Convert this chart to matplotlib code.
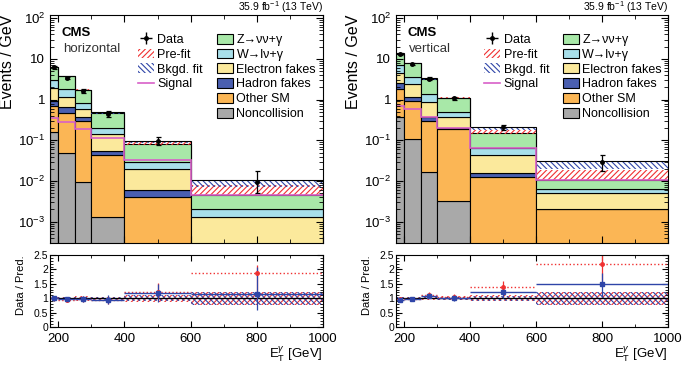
import numpy as np
import matplotlib
matplotlib.use("Agg")
import matplotlib.pyplot as plt
from matplotlib.patches import Patch
from matplotlib.lines import Line2D
from matplotlib.ticker import MultipleLocator, FixedLocator, NullFormatter

plt.rcParams['font.family'] = ['Liberation Sans', 'DejaVu Sans']
plt.rcParams['mathtext.fontset'] = 'custom'
plt.rcParams['mathtext.rm'] = 'Liberation Sans'
plt.rcParams['mathtext.it'] = 'Liberation Sans:italic'
plt.rcParams['hatch.linewidth'] = 0.8

# bin edges in photon ET (GeV)
edges = [175, 200, 250, 300, 400, 600, 1000]

# ---- horizontal (left) ----
h_noncoll = [0.163, 0.05, 0.0093, 0.0013, 0.0, 0.0]
h_other = [0.537, 0.41, 0.296, 0.0427, 0.004, 0.0001]
h_hadron = [0.25, 0.21, 0.075, 0.012, 0.002, 0.0001]
h_elec = [0.95, 0.52, 0.21, 0.084, 0.0135, 0.0011]
h_wgam = [1.15, 0.61, 0.25, 0.065, 0.0095, 0.0007]
h_zgam = [3.25, 1.9, 0.86, 0.265, 0.05, 0.0026]
h_signal = [0.35, 0.29, 0.186, 0.116, 0.033, 0.0046]
h_data = [6.2, 3.4, 1.6, 0.45, 0.095, 0.0096]
h_data_lo = [0.5, 0.27, 0.18, 0.07, 0.02, 0.0046]
h_data_hi = [0.5, 0.27, 0.18, 0.07, 0.023, 0.0085]
h_pre_lo = [6.0, 3.55, 1.62, 0.46, 0.077, 0.0046]
h_pre_hi = [6.6, 3.85, 1.78, 0.50, 0.090, 0.0080]
h_fit_lo = [6.0, 3.5, 1.6, 0.45, 0.085, 0.0070]
h_fit_hi = [6.5, 3.8, 1.75, 0.49, 0.098, 0.0106]
h_rfit = [1.0, 0.97, 0.97, 0.95, 1.17, 1.15]
h_rfit_lo = [0.08, 0.08, 0.11, 0.15, 0.3, 0.55]
h_rfit_hi = [0.08, 0.08, 0.11, 0.15, 0.33, 0.95]
h_rpre = [1.0, 0.93, 0.98, 0.93, 1.23, 1.86]
h_rpre_lo = [0.08, 0.07, 0.1, 0.14, 0.3, 0.9]
h_rpre_hi = [0.08, 0.07, 0.1, 0.14, 0.3, 0.3]
h_band_pre = [0.05, 0.05, 0.08, 0.05, 0.12, 0.22]
h_band_fit = [0.04, 0.04, 0.04, 0.05, 0.11, 0.22]

# ---- vertical (right) ----
v_noncoll = [0.37, 0.106, 0.017, 0.0032, 0.0, 0.0]
v_other = [1.43, 0.824, 0.288, 0.1828, 0.0123, 0.0020]
v_hadron = [0.7, 0.26, 0.075, 0.019, 0.0032, 0.0001]
v_elec = [1.9, 1.21, 0.48, 0.165, 0.0285, 0.0031]
v_wgam = [2.5, 1.1, 0.52, 0.14, 0.019, 0.0012]
v_zgam = [6.4, 4.3, 1.92, 0.59, 0.087, 0.0041]
v_signal = [0.71, 0.58, 0.37, 0.196, 0.064, 0.0104]
v_data = [12.9, 7.4, 3.3, 1.07, 0.21, 0.029]
v_data_lo = [0.72, 0.38, 0.26, 0.10, 0.032, 0.011]
v_data_hi = [0.72, 0.38, 0.26, 0.10, 0.032, 0.015]
v_pre_lo = [12.8, 7.5, 3.2, 1.08, 0.145, 0.0105]
v_pre_hi = [13.8, 8.1, 3.45, 1.16, 0.18, 0.019]
v_fit_lo = [13.0, 7.4, 3.1, 1.04, 0.18, 0.020]
v_fit_hi = [13.8, 7.9, 3.35, 1.12, 0.215, 0.031]
v_rfit = [0.93, 0.97, 1.08, 1.02, 1.2, 1.48]
v_rfit_lo = [0.06, 0.06, 0.08, 0.1, 0.18, 0.43]
v_rfit_hi = [0.06, 0.06, 0.08, 0.1, 0.18, 0.4]
v_rpre = [0.97, 0.97, 1.12, 1.03, 1.38, 2.2]
v_rpre_lo = [0.06, 0.06, 0.08, 0.1, 0.2, 0.6]
v_rpre_hi = [0.06, 0.06, 0.08, 0.1, 0.2, 0.35]
v_band_pre = [0.05, 0.05, 0.05, 0.06, 0.1, 0.22]
v_band_fit = [0.04, 0.04, 0.04, 0.05, 0.09, 0.22]

proc_labels = ['Z\u2192\u03bd\u03bd+\u03b3', 'W\u2192l\u03bd+\u03b3',
               'Electron fakes', 'Hadron fakes', 'Other SM', 'Noncollision']
proc_colors = ['#a8e8a8', '#a8dfea', '#fbe99c', '#4a5fb0', '#fbb655', '#a9a9a9']
red = '#f03030'
blue = '#2f45a8'
sig_col = '#d860c8'

lo = np.array(edges[:-1])
wd = np.diff(edges)
ctr = lo + wd / 2

leg_kw = dict(loc='upper left', frameon=False, fontsize=9, handlelength=1.3,
              handleheight=0.85, handletextpad=0.25, labelspacing=0.2,
              borderaxespad=0, borderpad=0)


def draw(ax, axr, stack, signal, data, dlo, dhi, pre, fit, rfit, rpre, bands, tag, legx):
    bottom = np.zeros(6)
    # stack from bottom: noncollision, other, hadron, electron, W, Z
    for vals, col in zip(stack, proc_colors[::-1]):
        ax.bar(lo, vals, width=wd, bottom=bottom, align='edge', color=col,
               edgecolor='k', linewidth=0.8)
        bottom = bottom + np.array(vals)
    ax.bar(lo, np.array(pre[1]) - np.array(pre[0]), width=wd, bottom=pre[0], align='edge',
           fill=False, hatch='//////', edgecolor=red, linewidth=0)
    ax.bar(lo, np.array(fit[1]) - np.array(fit[0]), width=wd, bottom=fit[0], align='edge',
           fill=False, hatch='\\\\\\\\\\\\', edgecolor=blue, linewidth=0)
    ax.stairs(fit[1], edges, baseline=None, color='k', linewidth=0.8)
    ax.stairs(signal, edges, baseline=None, color=sig_col, linewidth=1.2)
    ax.errorbar(ctr, data, yerr=[dlo, dhi], fmt='o', color='k', ms=2.5,
                capsize=1.8, elinewidth=0.9, capthick=0.9)

    ax.set_yscale('log')
    ax.set_xlim(175, 1000)
    ax.set_ylim(3e-4, 120)
    ax.set_yticks([1e-3, 1e-2, 1e-1, 1, 10, 100])
    ax.set_yticklabels([r'$10^{-3}$', r'$10^{-2}$', r'$10^{-1}$', '1', '10', r'$10^{2}$'])
    ax.yaxis.set_minor_locator(FixedLocator(
        [m * 10.0 ** e for e in range(-4, 2) for m in range(2, 10)]))
    ax.yaxis.set_minor_formatter(NullFormatter())
    ax.xaxis.set_major_locator(MultipleLocator(200))
    ax.xaxis.set_minor_locator(MultipleLocator(100))
    ax.set_xticklabels([])
    ax.tick_params(which='both', direction='in', top=True, right=True, labelsize=9.5)
    ax.tick_params(which='major', length=5)
    ax.tick_params(which='minor', length=3)
    ax.set_ylabel('Events / GeV', fontsize=11.5, labelpad=2, loc='top')

    ax.text(0.043, 0.947, 'CMS', transform=ax.transAxes, fontsize=9.5,
            fontweight='bold', va='top')
    ax.text(0.047, 0.875, tag, transform=ax.transAxes, fontsize=9.5, va='top', color='#333333')
    ax.text(1.0, 1.035, r'35.9 fb$^{-1}$ (13 TeV)', transform=ax.transAxes,
            fontsize=7.5, ha='right', va='center')

    h1 = [(Line2D([], [], color='k', marker='+', ms=9, linestyle='none', mew=1.0),
           Line2D([], [], color='k', marker='o', ms=2.5, linestyle='none')),
          Patch(facecolor='none', edgecolor=red, hatch='//////', linewidth=0),
          Patch(facecolor='none', edgecolor=blue, hatch='\\\\\\\\\\\\', linewidth=0),
          Line2D([], [], color=sig_col, linewidth=1.2)]
    leg1 = ax.legend(h1, ['Data', 'Pre-fit', 'Bkgd. fit', 'Signal'],
                     bbox_to_anchor=(legx[0], 0.918), **leg_kw)
    ax.add_artist(leg1)
    h2 = [Patch(facecolor=c, edgecolor='k', linewidth=0.8) for c in proc_colors]
    ax.legend(h2, proc_labels, bbox_to_anchor=(legx[1], 0.918), **leg_kw)

    # ratio panel
    bp = np.array(bands[0])
    bf = np.array(bands[1])
    axr.bar(lo, 2 * bp, width=wd, bottom=1 - bp, align='edge', fill=False,
            hatch='//////', edgecolor=red, linewidth=0)
    axr.bar(lo, 2 * bf, width=wd, bottom=1 - bf, align='edge', fill=False,
            hatch='\\\\\\\\\\\\', edgecolor=blue, linewidth=0)
    axr.axhline(1, color='k', linewidth=0.9)
    axr.hlines(rpre[0], lo, lo + wd, colors=red, linestyles=':', linewidth=1.0)
    axr.errorbar(ctr, rpre[0], yerr=[rpre[1], rpre[2]], fmt='o', color=red, ms=2.5,
                 elinewidth=0.9)
    axr.hlines(rfit[0], lo, lo + wd, colors=blue, linestyles='-', linewidth=1.0)
    axr.errorbar(ctr, rfit[0], yerr=[rfit[1], rfit[2]], fmt='s', color=blue, ms=2.5,
                 elinewidth=0.9)
    axr.set_xlim(175, 1000)
    axr.set_ylim(0, 2.5)
    axr.set_yticks([0, 0.5, 1, 1.5, 2, 2.5])
    axr.set_yticklabels(['0', '0.5', '1', '1.5', '2', '2.5'])
    axr.yaxis.set_minor_locator(MultipleLocator(0.1))
    axr.xaxis.set_major_locator(MultipleLocator(200))
    axr.xaxis.set_minor_locator(MultipleLocator(100))
    axr.tick_params(which='both', direction='in', top=True, right=True)
    axr.tick_params(axis='x', labelsize=9.5, pad=4)
    axr.tick_params(axis='y', labelsize=7.5, pad=1.5)
    axr.tick_params(which='major', length=4)
    axr.tick_params(which='minor', length=2)
    axr.set_ylabel('Data / Pred.', fontsize=8, labelpad=5, loc='top')
    axr.set_xlabel('E$_{\\mathrm{T}}^{\u03b3}$ [GeV]', fontsize=9.5, loc='right', labelpad=0)


fig = plt.figure(figsize=(6.83, 3.67), dpi=100)
W, H = 683.0, 367.0
ax1 = fig.add_axes([50 / W, 1 - 243 / H, 273 / W, 228 / H])
ar1 = fig.add_axes([50 / W, 1 - 327 / H, 273 / W, 72 / H])
ax2 = fig.add_axes([396 / W, 1 - 243 / H, 272 / W, 228 / H])
ar2 = fig.add_axes([396 / W, 1 - 327 / H, 272 / W, 72 / H])

draw(ax1, ar1,
     [h_noncoll, h_other, h_hadron, h_elec, h_wgam, h_zgam], h_signal,
     h_data, h_data_lo, h_data_hi, (h_pre_lo, h_pre_hi), (h_fit_lo, h_fit_hi),
     (h_rfit, h_rfit_lo, h_rfit_hi), (h_rpre, h_rpre_lo, h_rpre_hi),
     (h_band_pre, h_band_fit), 'horizontal', (0.322, 0.612))
draw(ax2, ar2,
     [v_noncoll, v_other, v_hadron, v_elec, v_wgam, v_zgam], v_signal,
     v_data, v_data_lo, v_data_hi, (v_pre_lo, v_pre_hi), (v_fit_lo, v_fit_hi),
     (v_rfit, v_rfit_lo, v_rfit_hi), (v_rpre, v_rpre_lo, v_rpre_hi),
     (v_band_pre, v_band_fit), 'vertical', (0.324, 0.614))

fig.savefig('out.png', dpi=100)
